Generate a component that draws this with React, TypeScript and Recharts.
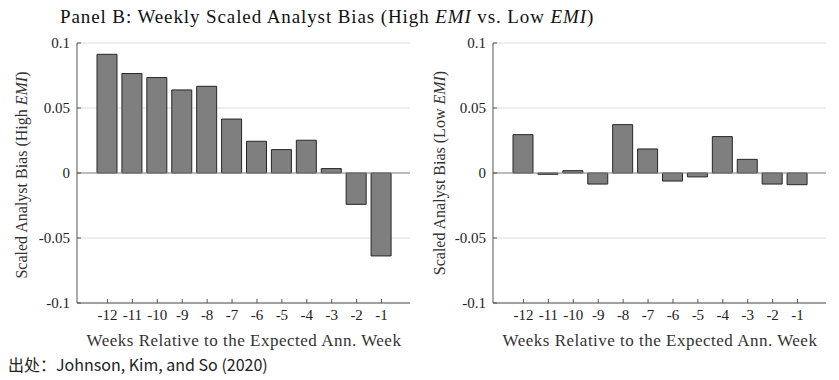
import { BarChart, Bar, XAxis, YAxis, CartesianGrid, ReferenceLine } from "recharts";

const weeks = ["-12", "-11", "-10", "-9", "-8", "-7", "-6", "-5", "-4", "-3", "-2", "-1"];
const highEmi = [0.0913, 0.0765, 0.0734, 0.0639, 0.0667, 0.0415, 0.0244, 0.018, 0.0252, 0.0034, -0.0241, -0.0638];
const lowEmi = [0.0295, -0.001, 0.0018, -0.0085, 0.0372, 0.0185, -0.0062, -0.003, 0.028, 0.0105, -0.0085, -0.009];
const yTicks = [-0.1, -0.05, 0, 0.05, 0.1];

const serif = "'Liberation Serif', 'DejaVu Serif', serif";
const tickStyle = { fontSize: 15, fill: "#222", fontFamily: serif };

function Panel({ values, left, width, yAxisWidth, marginRight }: { values: number[]; left: number; width: number; yAxisWidth: number; marginRight: number }) {
  const data = weeks.map((w, i) => ({ week: w, bias: values[i] }));
  return (
    <div style={{ position: "absolute", left, top: 0 }}>
      <BarChart width={width} height={360} data={data} margin={{ top: 43, right: marginRight, left: 27, bottom: 27 }}>
        <CartesianGrid vertical={false} stroke="#dcdcdc" />
        <XAxis
          dataKey="week"
          height={30}
          padding={{ left: 18, right: 16 }}
          axisLine={{ stroke: "#555" }}
          tickLine={{ stroke: "#555" }}
          tickSize={-4}
          tickMargin={10}
          tick={tickStyle}
          interval={0}
        />
        <YAxis
          type="number"
          domain={[-0.1, 0.1]}
          ticks={yTicks}
          width={yAxisWidth}
          axisLine={{ stroke: "#555" }}
          tickLine={{ stroke: "#555" }}
          tickSize={-4}
          tickMargin={11}
          tick={tickStyle}
        />
        <ReferenceLine y={0} stroke="#8a8a8a" />
        <Bar dataKey="bias" fill="#7f7f7f" stroke="#262626" strokeWidth={1} barSize={20} isAnimationActive={false} />
      </BarChart>
    </div>
  );
}

const xLabel = "Weeks Relative to the Expected Ann. Week";

export default function App() {
  const rotated = (cx: number, cy: number, who: string) => (
    <div
      style={{
        position: "absolute",
        left: cx,
        top: cy,
        transform: "translate(-50%, -50%) rotate(-90deg)",
        whiteSpace: "nowrap",
        fontSize: 16,
        color: "#333",
        fontFamily: serif,
      }}
    >
      Scaled Analyst Bias ({who} <i>EMI</i>)
    </div>
  );
  const bottomLabel = (cx: number) => (
    <div
      style={{
        position: "absolute",
        left: cx,
        top: 341,
        transform: "translate(-50%, -50%)",
        fontSize: 17,
        letterSpacing: 0.5,
        color: "#333",
        whiteSpace: "nowrap",
      }}
    >
      {xLabel}
    </div>
  );
  return (
    <div style={{ position: "absolute", left: 0, top: 0, width: 839, height: 380, background: "#fff", fontFamily: serif, overflow: "hidden" }}>
      <div style={{ position: "absolute", left: 60, top: 6, fontSize: 19, letterSpacing: 0.9, color: "#111", whiteSpace: "nowrap" }}>
        Panel B: Weekly Scaled Analyst Bias (High <i>EMI</i> vs. Low <i>EMI</i>)
      </div>
      <Panel values={highEmi} left={0} width={420} yAxisWidth={50} marginRight={10} />
      <Panel values={lowEmi} left={420} width={419} yAxisWidth={46} marginRight={13} />
      {rotated(22, 175, "High")}
      {rotated(440, 173, "Low")}
      {bottomLabel(244)}
      {bottomLabel(660)}
      <div style={{ position: "absolute", left: 8, top: 352, fontSize: 16, color: "#222", fontFamily: "'Noto Sans CJK SC', 'Noto Sans', sans-serif", whiteSpace: "nowrap" }}>
        出处：Johnson, Kim, and So (2020)
      </div>
    </div>
  );
}
